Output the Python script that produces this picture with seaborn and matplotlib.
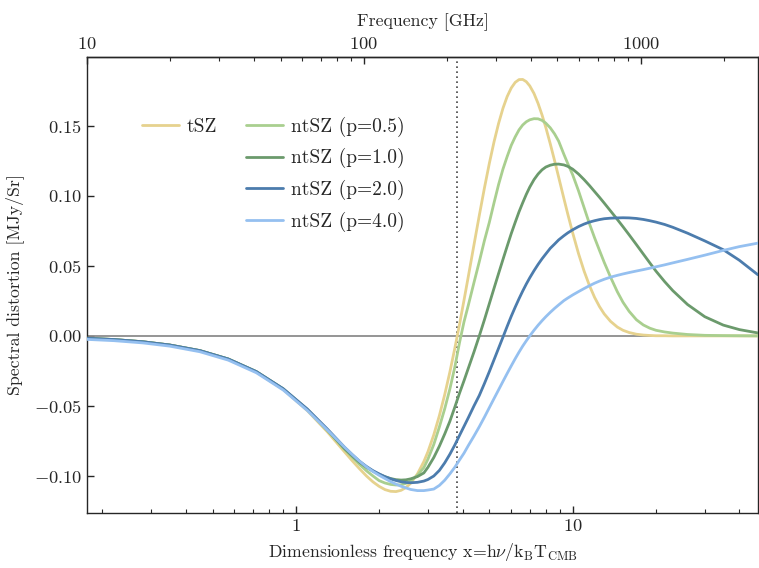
import matplotlib
matplotlib.use("Agg")
import matplotlib.pyplot as plt
import seaborn as sns
import pandas as pd
from matplotlib.lines import Line2D
from matplotlib.ticker import FuncFormatter, LogLocator, NullFormatter, FixedLocator

# ---------------- data ----------------
x_vals = [0.176, 0.22, 0.28, 0.35, 0.45, 0.57, 0.72, 0.9, 1.1, 1.3,
          1.5, 1.6, 1.7, 1.8, 1.9, 2.0, 2.1, 2.2, 2.3, 2.4,
          2.5, 2.6, 2.75, 2.9, 3.0, 3.15, 3.3, 3.45, 3.6, 3.75,
          3.9, 4.05, 4.2, 4.4, 4.6, 4.8, 5.0, 5.2, 5.4, 5.6,
          5.8, 6.0, 6.2, 6.4, 6.6, 6.8, 7.0, 7.25, 7.5, 7.75,
          8.0, 8.3, 8.6, 8.9, 9.3, 9.6, 10, 10.5, 11, 11.5,
          12, 12.5, 13, 13.7, 14.5, 15.2, 16, 17, 18, 19,
          20, 21.5, 23, 26, 30, 35, 40, 46.7]

tsz = [-0.0017, -0.0026, -0.0042, -0.0065, -0.0106, -0.0166, -0.0257, -0.0382, -0.0533, -0.0685,
       -0.0828, -0.0892, -0.0949, -0.1000, -0.1042, -0.1074, -0.1097, -0.1109, -0.1111, -0.1102,
       -0.1082, -0.1051, -0.0985, -0.0897, -0.0827, -0.0706, -0.0569, -0.0419, -0.0259, -0.0091,
       0.0080, 0.0254, 0.0426, 0.0649, 0.0860, 0.1055, 0.1231, 0.1385, 0.1516, 0.1624,
       0.1708, 0.1769, 0.1809, 0.1829, 0.1830, 0.1814, 0.1784, 0.1730, 0.1659, 0.1577,
       0.1487, 0.1371, 0.1252, 0.1133, 0.0979, 0.0870, 0.0736, 0.0587, 0.0462, 0.0359,
       0.0275, 0.0209, 0.0157, 0.0104, 0.0063, 0.0040, 0.0024, 0.0012, 0.0006, 0.0003,
       0.0001, 0.0001, 0.0, 0.0, 0.0, 0.0, 0.0, 0.0]

ntsz_p05 = [-0.0017, -0.0026, -0.0042, -0.0065, -0.0105, -0.0165, -0.0255, -0.0378, -0.0526, -0.0674,
            -0.0810, -0.0866, -0.0918, -0.0963, -0.1000, -0.1033, -0.1050, -0.1060, -0.1064, -0.1063,
            -0.1052, -0.1035, -0.0995, -0.0940, -0.0880, -0.0775, -0.0650, -0.0520, -0.0380, -0.0225,
            -0.0050, 0.0100, 0.0220, 0.0380, 0.0530, 0.0680, 0.0810, 0.0950, 0.1080, 0.1190,
            0.1280, 0.1360, 0.1420, 0.1470, 0.1505, 0.1528, 0.1542, 0.1550, 0.1549, 0.1538,
            0.1518, 0.1485, 0.1442, 0.1390, 0.1295, 0.1230, 0.1150, 0.1035, 0.0915, 0.0800,
            0.0700, 0.0610, 0.0525, 0.0420, 0.0315, 0.0240, 0.0175, 0.0115, 0.0078, 0.0055,
            0.0040, 0.0028, 0.0020, 0.0010, 0.0004, 0.0002, 0.0001, 0.0000]

ntsz_p10 = [-0.0017, -0.0026, -0.0042, -0.0065, -0.0105, -0.0165, -0.0255, -0.0378, -0.0525, -0.0672,
            -0.0805, -0.0857, -0.0903, -0.0938, -0.0966, -0.0988, -0.1005, -0.1018, -0.1026, -0.1029,
            -0.1027, -0.1020, -0.1004, -0.0978, -0.0938, -0.0868, -0.0787, -0.0700, -0.0610, -0.0510,
            -0.0410, -0.0320, -0.0230, -0.0115, 0.0000, 0.0115, 0.0230, 0.0340, 0.0445, 0.0545,
            0.0640, 0.0730, 0.0810, 0.0885, 0.0950, 0.1010, 0.1062, 0.1115, 0.1155, 0.1185,
            0.1205, 0.1218, 0.1225, 0.1226, 0.1220, 0.1210, 0.1190, 0.1155, 0.1115, 0.1073,
            0.1030, 0.0989, 0.0948, 0.0892, 0.0831, 0.0779, 0.0721, 0.0651, 0.0584, 0.0521,
            0.0462, 0.0387, 0.0323, 0.0224, 0.0137, 0.0077, 0.0045, 0.0021]

ntsz_p20 = [-0.0017, -0.0026, -0.0042, -0.0065, -0.0105, -0.0165, -0.0255, -0.0377, -0.0522, -0.0665,
            -0.0795, -0.0848, -0.0895, -0.0932, -0.0962, -0.0985, -0.1005, -0.1020, -0.1032, -0.1041,
            -0.1046, -0.1048, -0.1045, -0.1036, -0.1025, -0.1000, -0.0960, -0.0906, -0.0845, -0.0780,
            -0.0711, -0.0646, -0.0583, -0.0500, -0.0425, -0.0340, -0.0255, -0.0170, -0.0088, -0.0009,
            0.0068, 0.0140, 0.0205, 0.0265, 0.0320, 0.0370, 0.0415, 0.0465, 0.0510, 0.0550,
            0.0585, 0.0625, 0.0655, 0.0685, 0.0715, 0.0735, 0.0757, 0.0780, 0.0798, 0.0812,
            0.0822, 0.0830, 0.0836, 0.0840, 0.0842, 0.0843, 0.0842, 0.0838, 0.0831, 0.0822,
            0.0812, 0.0795, 0.0775, 0.0733, 0.0678, 0.0615, 0.0540, 0.0436]

ntsz_p40 = [-0.0025, -0.0034, -0.0050, -0.0073, -0.0113, -0.0173, -0.0263, -0.0386, -0.0532, -0.0672,
            -0.0795, -0.0848, -0.0895, -0.0935, -0.0968, -0.0995, -0.1018, -0.1040, -0.1058, -0.1073,
            -0.1085, -0.1096, -0.1104, -0.1104, -0.1100, -0.1093, -0.1067, -0.1030, -0.0985, -0.0938,
            -0.0886, -0.0837, -0.0782, -0.0715, -0.0648, -0.0580, -0.0512, -0.0447, -0.0385, -0.0325,
            -0.0268, -0.0214, -0.0163, -0.0116, -0.0073, -0.0035, 0.0000, 0.0040, 0.0076, 0.0108,
            0.0137, 0.0168, 0.0196, 0.0221, 0.0252, 0.0270, 0.0292, 0.0316, 0.0338, 0.0358,
            0.0376, 0.0391, 0.0404, 0.0419, 0.0432, 0.0442, 0.0452, 0.0463, 0.0473, 0.0483,
            0.0493, 0.0507, 0.0521, 0.0546, 0.0576, 0.0610, 0.0637, 0.0662]

series_labels = ["tSZ", "ntSZ (p=0.5)", "ntSZ (p=1.0)", "ntSZ (p=2.0)", "ntSZ (p=4.0)"]
series_colors = ["#e6d28e", "#a9cf8f", "#6b9a6c", "#4c7cad", "#95c0f0"]
tsz_null_x = 3.83          # dotted vertical marker
ghz_per_x = 56.8           # nu [GHz] = x * 56.8
x_ticks_bottom = [1, 10]
x_ticks_top = [10, 100, 1000]
y_ticks = [-0.10, -0.05, 0.00, 0.05, 0.10, 0.15]

# ---------------- style ----------------
sns.set_style("ticks")
plt.rcParams.update({
    "font.family": ["cmr10", "DejaVu Serif"],
    "mathtext.fontset": "cm",
    "axes.formatter.use_mathtext": True,
    "axes.linewidth": 1.0,
})

TICK_FS = 13.3
LABEL_FS = 12.8
LEGEND_FS = 14

fig = plt.figure(figsize=(7.59, 5.68), dpi=100)
ax = fig.add_axes([0.1146, 0.0968, 0.8840, 0.8028])

all_series = [tsz, ntsz_p05, ntsz_p10, ntsz_p20, ntsz_p40]
df = pd.DataFrame({
    "x": x_vals * len(all_series),
    "y": [v for s in all_series for v in s],
    "series": [lab for lab, s in zip(series_labels, all_series) for _ in s],
})

ax.axhline(0, color="#8c8c8c", lw=1.3, zorder=1)
ax.axvline(tsz_null_x, color="#444444", ls=(0, (1, 2)), lw=1.2, zorder=1)

sns.lineplot(data=df, x="x", y="y", hue="series", hue_order=series_labels,
             palette=dict(zip(series_labels, series_colors)), lw=2.0,
             legend=False, ax=ax, sort=False, zorder=3)

ax.set_xscale("log")
ax.set_xlim(x_vals[0], x_vals[-1])
ax.set_ylim(-0.1264, 0.199)

ax.xaxis.set_major_locator(FixedLocator(x_ticks_bottom))
ax.xaxis.set_major_formatter(FuncFormatter(lambda v, p: f"${v:g}$"))
ax.xaxis.set_minor_locator(LogLocator(base=10, subs=range(2, 10)))
ax.xaxis.set_minor_formatter(NullFormatter())
ax.yaxis.set_major_locator(FixedLocator(y_ticks))
ax.yaxis.set_major_formatter(FuncFormatter(lambda v, p: f"${v:.2f}$"))
ax.tick_params(axis="both", which="major", direction="in", length=5, width=1.0,
               labelsize=TICK_FS, top=False, right=False)
ax.tick_params(axis="x", which="minor", direction="in", length=3, width=0.8, top=False)

ax.set_xlabel(r"Dimensionless frequency x=h$\nu$/k$_{\rm B}$T$_{\rm CMB}$", fontsize=LABEL_FS, labelpad=5)
ax.set_ylabel("Spectral distortion [MJy/Sr]", fontsize=LABEL_FS, labelpad=7)

secax = ax.secondary_xaxis("top", functions=(lambda x: x * ghz_per_x, lambda f: f / ghz_per_x))
secax.xaxis.set_major_locator(FixedLocator(x_ticks_top))
secax.xaxis.set_major_formatter(FuncFormatter(lambda v, p: f"${v:g}$"))
secax.xaxis.set_minor_locator(LogLocator(base=10, subs=range(2, 10)))
secax.xaxis.set_minor_formatter(NullFormatter())
secax.tick_params(axis="x", which="major", direction="in", length=5, width=1.0, labelsize=TICK_FS)
secax.tick_params(axis="x", which="minor", direction="in", length=3, width=0.8)
secax.set_xlabel("Frequency [GHz]", fontsize=LABEL_FS, labelpad=7)

# legend: tSZ alone in first column, ntSZ curves in second column
line_handles = [Line2D([], [], color=c, lw=2.0) for c in series_colors]
blank = Line2D([], [], color="none", lw=0)
handles = [line_handles[0], blank, blank, blank] + line_handles[1:]
labels = [series_labels[0], "", "", ""] + series_labels[1:]
ax.legend(handles, labels, ncol=2, loc="upper left", bbox_to_anchor=(0.0555, 0.908),
          frameon=False, fontsize=LEGEND_FS, handlelength=1.9, labelspacing=0.6,
          columnspacing=1.5, handletextpad=0.42)

fig.savefig("out.png", dpi=100)
